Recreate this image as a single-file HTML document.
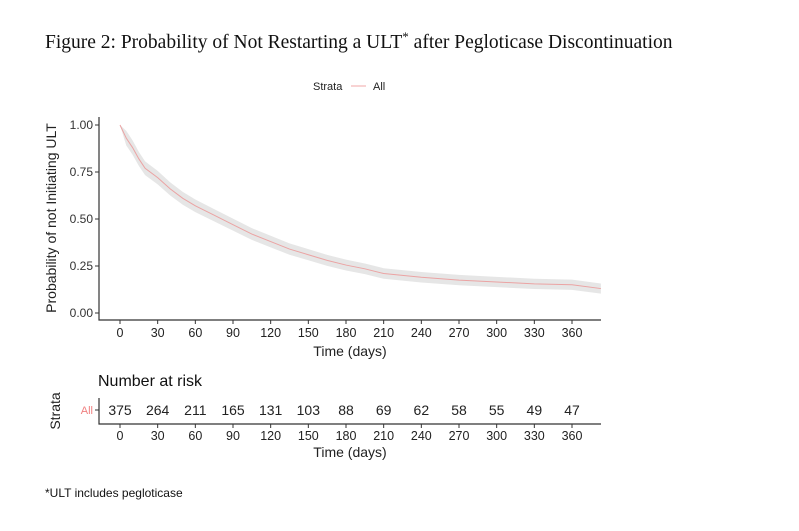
<!DOCTYPE html>
<html><head><meta charset="utf-8"><style>
body{margin:0;background:#fff;}
svg{display:block;font-family:"Liberation Sans",Arial,sans-serif;}
</style></head><body>
<svg id="chart" width="799" height="531" viewBox="0 0 799 531">
<text x="45" y="48" font-family="Liberation Serif,serif" font-size="19.5" fill="#111">Figure 2: Probability of Not Restarting a ULT<tspan dy="-7" font-size="13">*</tspan><tspan dy="7"> after Pegloticase Discontinuation</tspan></text>
<g>
<text x="313" y="90" font-size="11" fill="#222">Strata</text>
<line x1="351" y1="86" x2="366" y2="86" stroke="#f2a7a7" stroke-width="1"/>
<text x="373" y="90" font-size="11" fill="#222">All</text>
</g>
<g id="plot"></g>
<g id="risk"></g>
<text x="45" y="497" font-size="12" fill="#111">*ULT includes pegloticase</text>
</svg>
<script>
const times=[0,5,10,15,20,30,40,50,60,75,90,105,120,135,150,165,180,195,210,240,270,300,330,360,383];
const surv=[1.0,0.93,0.88,0.82,0.77,0.72,0.66,0.61,0.57,0.52,0.47,0.42,0.38,0.34,0.31,0.28,0.255,0.235,0.21,0.19,0.175,0.165,0.155,0.15,0.13];
const xTicks=[0,30,60,90,120,150,180,210,240,270,300,330,360];
const yTicks=[0,0.25,0.5,0.75,1.0];
const yLabels=["0.00","0.25","0.50","0.75","1.00"];
const atRisk=[375,264,211,165,131,103,88,69,62,58,55,49,47];
const NS="http://www.w3.org/2000/svg";
const X=t=>120+t*(452/360);
const Y=v=>313-v*188;
function mk(tag,attrs,parent,text){const e=document.createElementNS(NS,tag);for(const k in attrs)e.setAttribute(k,attrs[k]);if(text!==undefined)e.textContent=text;parent.appendChild(e);return e;}
const plot=document.getElementById('plot');
let up=[],lo=[];
for(let i=0;i<times.length;i++){const s=surv[i];const w=0.025+0.015*s;up.push([X(times[i]),Y(Math.min(1,s+w*(i?1:0)))]);lo.push([X(times[i]),Y(s-w*(i?1:0))]);}
let pts=up.concat(lo.reverse()).map(p=>p.join(',')).join(' ');
const band=mk('polygon',{points:pts,fill:'#e6e6e6'},plot);


const lp=times.map((t,i)=>X(t)+','+Y(surv[i])).join(' ');
const line=mk('polyline',{points:lp,fill:'none',stroke:'#eba3a3','stroke-width':1},plot);


const ax=mk('path',{d:`M99,117V320H601`,fill:'none',stroke:'#333','stroke-width':1.2},plot);


yTicks.forEach((v,i)=>{mk('line',{x1:95,x2:99,y1:Y(v),y2:Y(v),stroke:'#333'},plot);
const t=mk('text',{x:93,y:Y(v)+4,'text-anchor':'end','font-size':12,fill:'#333'},plot,yLabels[i]);

});
xTicks.forEach(v=>{mk('line',{x1:X(v),x2:X(v),y1:320,y2:324,stroke:'#333'},plot);
const t=mk('text',{x:X(v),y:337,'text-anchor':'middle','font-size':12.5,fill:'#222'},plot,v);

});
const xt=mk('text',{x:350,y:356,'text-anchor':'middle','font-size':14,fill:'#222'},plot,'Time (days)');


const yt=mk('text',{x:0,y:0,'text-anchor':'middle','font-size':14,fill:'#222',transform:'translate(56,218) rotate(-90)'},plot,'Probability of not Initiating ULT');


const risk=document.getElementById('risk');
const rt=mk('text',{x:98,y:386,'font-size':16,fill:'#111'},risk,'Number at risk');


const rax=mk('path',{d:'M99,398V424H601',fill:'none',stroke:'#333','stroke-width':1.2},risk);


mk('line',{x1:95,x2:99,y1:410,y2:410,stroke:'#333'},risk);
const al=mk('text',{x:93,y:414,'text-anchor':'end','font-size':11,fill:'#f08080'},risk,'All');


const st=mk('text',{x:0,y:0,'text-anchor':'middle','font-size':14,fill:'#222',transform:'translate(60,411) rotate(-90)'},risk,'Strata');


xTicks.forEach((v,i)=>{
const n=mk('text',{x:X(v),y:415,'text-anchor':'middle','font-size':14,fill:'#222'},risk,atRisk[i]);


mk('line',{x1:X(v),x2:X(v),y1:424,y2:428,stroke:'#333'},risk);
const t=mk('text',{x:X(v),y:440,'text-anchor':'middle','font-size':12.5,fill:'#222'},risk,v);

});
const rx=mk('text',{x:350,y:457,'text-anchor':'middle','font-size':14,fill:'#222'},risk,'Time (days)');


</script>
</body></html>
